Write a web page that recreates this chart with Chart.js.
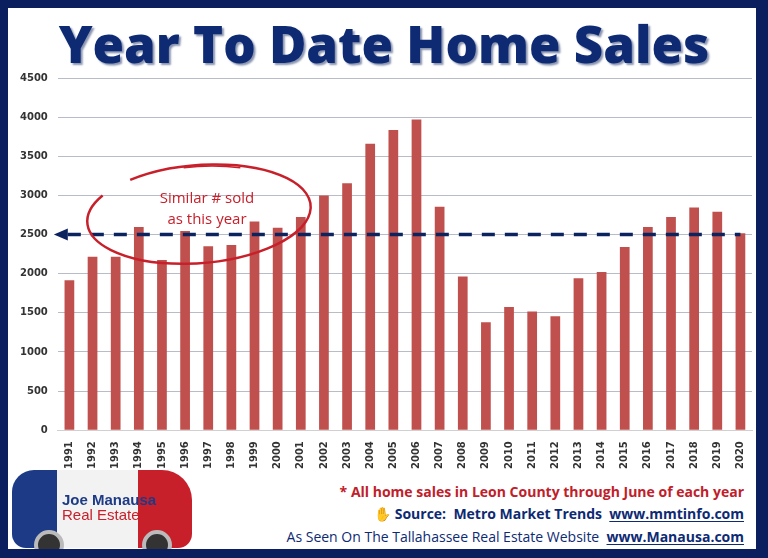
<!DOCTYPE html>
<html>
<head>
<meta charset="utf-8">
<script src="https://cdn.jsdelivr.net/npm/chart.js@4"></script>
<style>
  html, body { margin: 0; padding: 0; }
  body { width: 768px; height: 558px; position: relative; overflow: hidden; background: #fff; font-family: "Open Sans", sans-serif; }
  #frame { position: absolute; left: 0; top: 0; width: 768px; height: 558px; box-sizing: border-box;
    border: 8px solid #0b1f5e; border-right-width: 12px; border-bottom-width: 9px; pointer-events: none; z-index: 5; }
  #title { position: absolute; left: 0; width: 768px; top: 8px; text-align: center; font-weight: 800; font-size: 51px;
    color: #0d2a73; text-shadow: 2px 2px 2px #8a94b0; }
  #wrap { position: absolute; left: 10px; top: 62px; width: 748px; height: 410px; }
  .note { position: absolute; right: 24px; font-family: "Open Sans", sans-serif; white-space: nowrap; }
  #n1 { top: 482px; color: #c0202a; font-weight: 700; font-size: 14px; }
  #n2 { top: 504px; color: #0d2a73; font-weight: 700; font-size: 14px; }
  #n3 { top: 527px; color: #0d2a73; font-size: 14px; }
  u { text-underline-offset: 2px; }
  #car { position: absolute; left: 12px; top: 470px; width: 180px; height: 78px; border-radius: 22px 30px 14px 14px;
    background: linear-gradient(90deg, #1d3a86 0%, #1d3a86 25%, #f2f2f2 25%, #f2f2f2 70%, #c8202b 70%); }
  #car span { position: absolute; left: 50px; top: 22px; font-family: "Liberation Sans Narrow", sans-serif; font-weight: 700; color: #1d3a86; font-size: 15px; line-height: 15px; }
  .wheel { position: absolute; top: 60px; width: 30px; height: 30px; border-radius: 50%; background: #333; border: 4px solid #bbb; box-sizing: border-box; }
</style>
</head>
<body>
<div id="frame"></div>
<div id="title">Year To Date Home Sales</div>
<div id="wrap"><canvas id="chart"></canvas></div>
<div id="car"><span>Joe Manausa<br><span style="position:static;color:#c8202b;font-weight:400">Real Estate</span></span>
  <div class="wheel" style="left:22px"></div><div class="wheel" style="left:130px"></div></div>
<div class="note" id="n1">* All home sales in Leon County through June of each year</div>
<div class="note" id="n2">&#9995; Source:&nbsp; Metro Market Trends &nbsp;<u>www.mmtinfo.com</u></div>
<div class="note" id="n3">As Seen On The Tallahassee Real Estate Website &nbsp;<b><u>www.Manausa.com</u></b></div>
<script>
const years = ['1991','1992','1993','1994','1995','1996','1997','1998','1999','2000',
  '2001','2002','2003','2004','2005','2006','2007','2008','2009','2010',
  '2011','2012','2013','2014','2015','2016','2017','2018','2019','2020'];
const sales = [1915, 2215, 2215, 2595, 2175, 2545, 2350, 2365, 2665, 2585,
  2725, 3000, 3155, 3660, 3835, 3970, 2855, 1965, 1380, 1575,
  1515, 1455, 1940, 2020, 2340, 2595, 2725, 2845, 2790, 2515];
const thisYear = 2500;

const annotate = {
  id: 'annotate',
  afterDatasetsDraw(chart) {
    const ctx = chart.ctx, x = chart.scales.x, y = chart.scales.y;
    const yy = y.getPixelForValue(thisYear);
    ctx.save();
    // dashed reference line with arrow
    ctx.strokeStyle = '#0b2460';
    ctx.lineWidth = 3.5;
    ctx.setLineDash([13, 10]);
    ctx.beginPath();
    ctx.moveTo(x.left + 10, yy);
    ctx.lineTo(x.getPixelForValue(29), yy);
    ctx.stroke();
    ctx.setLineDash([]);
    ctx.fillStyle = '#0b2460';
    ctx.beginPath();
    ctx.moveTo(x.left - 4, yy);
    ctx.lineTo(x.left + 10, yy - 6);
    ctx.lineTo(x.left + 10, yy + 6);
    ctx.closePath();
    ctx.fill();
    // hand drawn ellipse
    const cx = x.getPixelForValue(5.6), cy = y.getPixelForValue(2760);
    ctx.strokeStyle = '#c8202b';
    ctx.lineWidth = 2.5;
    ctx.beginPath();
    ctx.ellipse(cx, cy, 112, 49, -0.08, 1.3 * Math.PI, 3.18 * Math.PI);
    ctx.stroke();
    ctx.lineWidth = 1.5;
    ctx.beginPath();
    ctx.ellipse(cx + 4, cy + 2, 108, 50, -0.05, 1.45 * Math.PI, 1.62 * Math.PI);
    ctx.stroke();
    ctx.fillStyle = '#c8202b';
    ctx.font = '15px "Open Sans", sans-serif';
    ctx.textAlign = 'center';
    ctx.fillText('Similar # sold', cx + 8, y.getPixelForValue(2900));
    ctx.fillText('as this year', cx + 8, y.getPixelForValue(2630));
    ctx.restore();
  }
};

new Chart(document.getElementById('chart'), {
  type: 'bar',
  data: {
    labels: years,
    datasets: [{
      data: sales,
      backgroundColor: '#c0504d',
      barPercentage: 0.42,
      categoryPercentage: 1
    }]
  },
  options: {
    responsive: true,
    maintainAspectRatio: false,
    animation: false,
    layout: { padding: { right: 6 } },
    plugins: { legend: { display: false }, tooltip: { enabled: false } },
    scales: {
      x: {
        grid: { display: false },
        border: { color: '#d0d0d0' },
        ticks: { minRotation: 90, maxRotation: 90, color: '#333', font: { family: 'DejaVu Sans', weight: 'bold', size: 10 } }
      },
      y: {
        min: 0, max: 4500,
        ticks: { stepSize: 500, color: '#333', padding: 10, callback: v => String(v),
          font: { family: 'DejaVu Sans', weight: 'bold', size: 10 } },
        grid: { color: '#b8bcc8', drawTicks: false },
        border: { display: false }
      }
    }
  },
  plugins: [annotate]
});
</script>
</body>
</html>
